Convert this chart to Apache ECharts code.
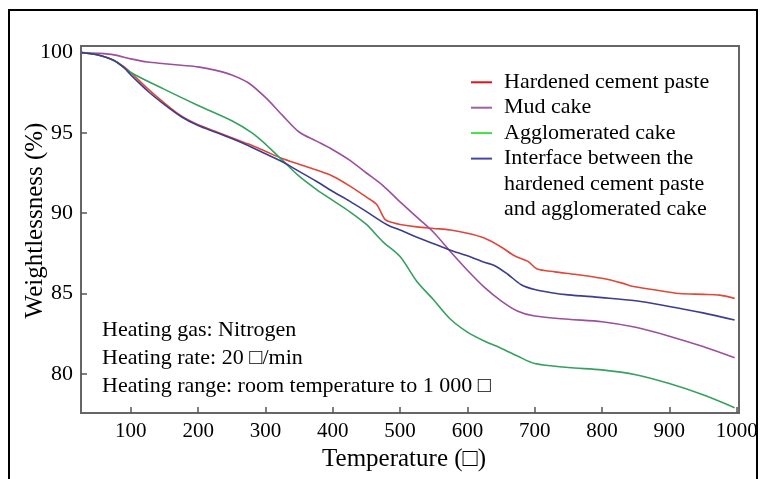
<!DOCTYPE html>
<html>
<head>
<meta charset="utf-8">
<script src="https://cdn.jsdelivr.net/npm/echarts@6/dist/echarts.min.js"></script>
<style>
html, body { margin: 0; padding: 0; background: #fff; }
#chart { width: 766px; height: 479px; }
</style>
</head>
<body>
<div id="chart"></div>
<script>
// series names
var names = [
    'Hardened cement paste',
    'Mud cake',
    'Agglomerated cake',
    'Interface between the\nhardened cement paste\nand agglomerated cake'
];

// Hardened cement paste
var tempHcp = [27, 50, 75, 90, 100, 125, 150, 175, 200, 225, 250, 275, 300, 325, 350, 375, 400, 425, 450, 465, 478, 490, 500, 525, 550, 575, 600, 625, 650, 670, 690, 703, 730, 760, 800, 830, 845, 875, 915, 950, 975, 997];
var wHcp = [100, 99.85, 99.5, 99.1, 98.75, 97.75, 96.85, 96.05, 95.5, 95.1, 94.7, 94.3, 93.85, 93.4, 93.05, 92.7, 92.3, 91.7, 91.0, 90.55, 89.6, 89.4, 89.3, 89.15, 89.05, 88.95, 88.75, 88.45, 87.9, 87.35, 87.0, 86.55, 86.35, 86.2, 85.95, 85.65, 85.45, 85.25, 85.0, 84.95, 84.9, 84.7];

// Mud cake
var tempMud = [27, 50, 75, 100, 125, 150, 175, 200, 225, 250, 275, 300, 325, 350, 375, 400, 425, 450, 475, 500, 525, 550, 575, 600, 625, 650, 675, 700, 750, 800, 850, 900, 950, 997];
var wMud = [100, 99.95, 99.85, 99.6, 99.4, 99.3, 99.2, 99.1, 98.9, 98.6, 98.1, 97.2, 96.1, 95.05, 94.5, 93.95, 93.3, 92.5, 91.7, 90.7, 89.75, 88.8, 87.6, 86.45, 85.4, 84.55, 83.9, 83.6, 83.4, 83.25, 82.9, 82.35, 81.7, 81.0];

// Agglomerated cake
var tempAgg = [27, 50, 75, 100, 150, 200, 250, 280, 300, 325, 350, 375, 400, 425, 450, 475, 500, 525, 550, 575, 600, 625, 650, 675, 700, 750, 800, 850, 900, 950, 997];
var wAgg = [100, 99.85, 99.5, 98.75, 97.7, 96.7, 95.75, 95.0, 94.3, 93.3, 92.3, 91.5, 90.8, 90.1, 89.3, 88.2, 87.3, 85.75, 84.6, 83.4, 82.6, 82.05, 81.6, 81.1, 80.65, 80.4, 80.25, 79.95, 79.4, 78.7, 77.9];

// Interface
var tempInt = [27, 50, 75, 90, 100, 125, 150, 175, 200, 225, 250, 275, 300, 325, 350, 375, 400, 425, 450, 480, 500, 525, 550, 575, 600, 625, 640, 660, 680, 700, 725, 750, 800, 850, 900, 950, 997];
var wInt = [100, 99.85, 99.5, 99.05, 98.6, 97.6, 96.75, 96.0, 95.45, 95.05, 94.65, 94.2, 93.7, 93.2, 92.6, 92.0, 91.35, 90.75, 90.1, 89.3, 88.95, 88.5, 88.1, 87.7, 87.35, 86.95, 86.75, 86.2, 85.55, 85.25, 85.05, 84.92, 84.75, 84.55, 84.2, 83.8, 83.35];

var xTicks = [100, 200, 300, 400, 500, 600, 700, 800, 900, 1000];
var yTicks = [80, 85, 90, 95, 100];

var lineColors = ['#e0473a', '#9c4f9c', '#36a060', '#3d3d8f'];
var iconColors = ['#e01414', '#a060a8', '#44dd44', '#4646aa'];

var serif = "'Liberation Serif', 'Times New Roman', serif";

function pairs(xs, ys) {
    var out = [];
    xs.forEach(function (x, i) {
        out.push([x, ys[i]]);
    });
    return out;
}

var chartDom = document.getElementById('chart');
var myChart = echarts.init(chartDom);

var seriesData = [
    pairs(tempHcp, wHcp),
    pairs(tempMud, wMud),
    pairs(tempAgg, wAgg),
    pairs(tempInt, wInt)
];

var legendText = {
    color: '#000',
    fontFamily: serif,
    fontSize: 22,
    lineHeight: 25.4,
    padding: [0, 0, 0, 7]
};

var option = {
    animation: false,
    backgroundColor: '#fff',
    grid: {
        left: 81,
        top: 46,
        width: 658,
        height: 367,
        show: true,
        borderColor: '#666',
        borderWidth: 2,
        backgroundColor: 'transparent'
    },
    legend: [
        {
            orient: 'vertical',
            left: 471,
            top: 69.6,
            padding: 0,
            itemGap: 0,
            itemWidth: 21,
            itemHeight: 2,
            icon: 'rect',
            textStyle: legendText,
            data: [0, 1, 2].map(function (i) {
                return { name: names[i], itemStyle: { color: iconColors[i] } };
            })
        },
        {
            orient: 'vertical',
            left: 471,
            top: 95.1,
            padding: 0,
            itemWidth: 21,
            itemHeight: 2,
            icon: 'rect',
            textStyle: legendText,
            formatter: function (name) {
                return '\n\n' + name;
            },
            data: [{ name: names[3], itemStyle: { color: iconColors[3] } }]
        }
    ],
    xAxis: {
        type: 'value',
        min: 26,
        max: 1003.5,
        name: 'Temperature (\u25A1)',
        nameLocation: 'middle',
        nameGap: 34,
        nameMoveOverlap: false,
        nameTextStyle: { color: '#000', fontFamily: serif, fontSize: 25, padding: [0, 12, 0, 0] },
        axisLine: { show: true, lineStyle: { color: '#666', width: 2 } },
        axisTick: { show: true, inside: true, length: 6, customValues: xTicks, lineStyle: { color: '#555', width: 1.5 } },
        axisLabel: {
            customValues: xTicks,
            margin: 8,
            color: '#000',
            fontFamily: serif,
            fontSize: 21,
            formatter: function (v) { return String(v); }
        },
        splitLine: { show: false }
    },
    yAxis: {
        type: 'value',
        min: 77.57,
        max: 100.4,
        name: 'Weightlessness (%)',
        nameLocation: 'middle',
        nameGap: 33,
        nameMoveOverlap: false,
        nameTextStyle: { color: '#000', fontFamily: serif, fontSize: 25, padding: [0, 0, 0, 18] },
        axisLine: { show: true, lineStyle: { color: '#666', width: 2 } },
        axisTick: { show: true, inside: true, length: 6, customValues: yTicks, lineStyle: { color: '#555', width: 1.5 } },
        axisLabel: { customValues: yTicks, margin: 8, color: '#000', fontFamily: serif, fontSize: 22 },
        splitLine: { show: false }
    },
    graphic: [
        {
            type: 'text',
            left: 102,
            top: 316,
            style: {
                text: 'Heating gas: Nitrogen\nHeating rate: 20 \u25A1/min\nHeating range: room temperature to 1 000 \u25A1',
                fill: '#000',
                fontFamily: serif,
                fontSize: 22,
                lineHeight: 28
            }
        },
        {
            type: 'polyline',
            silent: true,
            shape: { points: [[9, 479], [9, 10], [757, 10], [757, 479]] },
            style: { fill: null, stroke: '#000', lineWidth: 2 }
        }
    ],
    series: seriesData.map(function (d, i) {
        return {
            name: names[i],
            type: 'line',
            data: d,
            smooth: 0.3,
            showSymbol: false,
            symbol: 'none',
            lineStyle: { color: lineColors[i], width: 1.6 },
            itemStyle: { color: lineColors[i] }
        };
    })
};

myChart.setOption(option);

window.addEventListener('resize', function () {
    myChart.resize();
});
</script>
</body>
</html>
